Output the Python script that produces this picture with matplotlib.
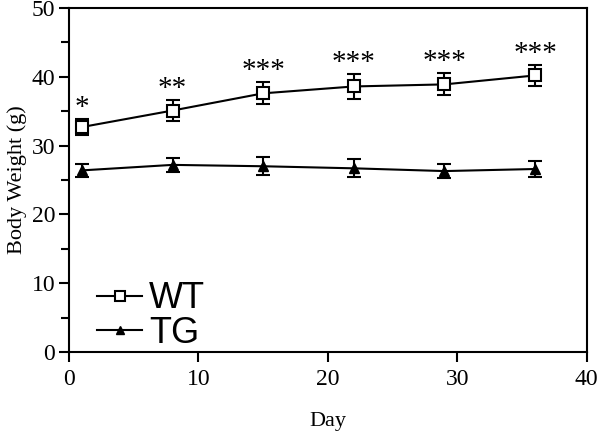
import matplotlib
matplotlib.use("Agg")
import matplotlib.pyplot as plt
from matplotlib.lines import Line2D
from matplotlib.ticker import MultipleLocator

days = [1, 8, 15, 22, 29, 36]
wt_mean = [32.7, 35.1, 37.6, 38.6, 38.9, 40.2]
wt_err = [1.2, 1.5, 1.6, 1.8, 1.6, 1.5]
tg_mean = [26.4, 27.2, 27.0, 26.7, 26.3, 26.6]
tg_err = [0.9, 1.0, 1.3, 1.3, 1.0, 1.2]
stars = ["*", "**", "***", "***", "***", "***"]

serif = "Liberation Serif"

fig = plt.figure(figsize=(6, 4.41), dpi=100)
ax = fig.add_axes([0.115, 0.2018, 0.863, 0.780])

wt_style = dict(color="black", lw=1.5, marker="s", ms=8, mfc="white",
                mec="black", mew=1.5)
tg_style = dict(color="black", lw=1.5, marker="^", ms=7.5, mfc="black",
                mec="black")

ax.errorbar(days, wt_mean, yerr=wt_err, capsize=5, elinewidth=1.5,
            capthick=1.5, **wt_style)
ax.errorbar(days, tg_mean, yerr=tg_err, capsize=5, elinewidth=1.5,
            capthick=1.5, **tg_style)

# significance marks above WT points
for d, m, e, s in zip(days, wt_mean, wt_err, stars):
    ax.text(d, m + e + 1.6, s, ha="center", va="center", fontsize=21,
            family=serif)

ax.set_xlim(0, 40)
ax.set_ylim(0, 50)
ax.xaxis.set_major_locator(MultipleLocator(10))
ax.yaxis.set_major_locator(MultipleLocator(10))
ax.yaxis.set_minor_locator(MultipleLocator(5))
ax.tick_params(which="both", direction="out", width=1.5, labelsize=17)
ax.tick_params(which="major", length=7)
ax.tick_params(which="minor", length=6)
ax.tick_params(axis="x", pad=5)
ax.tick_params(axis="y", pad=3)
for lab in ax.get_xticklabels() + ax.get_yticklabels():
    lab.set_family(serif)
for sp in ax.spines.values():
    sp.set_linewidth(1.5)

ax.set_xlabel("Day", family=serif, fontsize=16, labelpad=16)
ax.set_ylabel("Body Weight (g)", family=serif, fontsize=16, labelpad=3)

leg_wt = dict(wt_style, ms=7)
leg_tg = dict(tg_style, ms=6)
handles = [Line2D([], [], **leg_wt), Line2D([], [], **leg_tg)]
ax.legend(handles, ["WT", "TG"], loc="center left",
          bbox_to_anchor=(0.054, 0.105), frameon=False,
          borderpad=0, borderaxespad=0,
          prop={"family": "Liberation Sans", "size": 26},
          handlelength=1.25, handletextpad=0.2, labelspacing=-0.02)

fig.savefig("out.png", dpi=100)
